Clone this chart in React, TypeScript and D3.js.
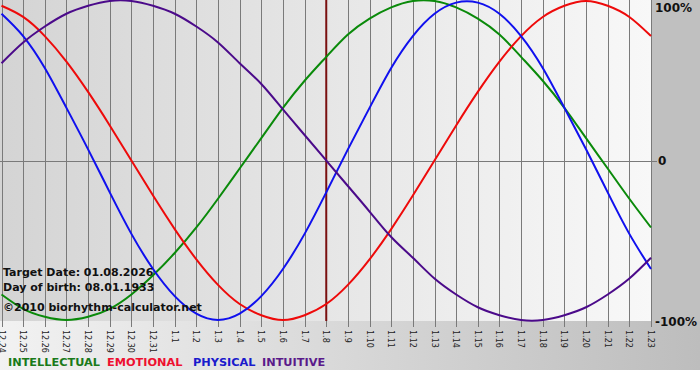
import React from "react";
import * as d3 from "d3";

const dayLabels = [
  "12.24","12.25","12.26","12.27","12.28","12.29","12.30","12.31",
  "1.1","1.2","1.3","1.4","1.5","1.6","1.7","1.8","1.9","1.10","1.11","1.12",
  "1.13","1.14","1.15","1.16","1.17","1.18","1.19","1.20","1.21","1.22","1.23",
];
const targetLabel = "1.8";

const intellectual = [
  -0.84,-0.93,-0.98,-1.0,-0.98,-0.93,-0.84,-0.72,-0.58,-0.42,-0.24,-0.05,0.14,0.33,0.5,0.65,
  0.79,0.89,0.96,1.0,1.0,0.96,0.89,0.79,0.65,0.5,0.33,0.14,-0.05,-0.24,-0.42,
];
const emotional = [
  0.97,0.9,0.78,0.62,0.43,0.22,0.0,-0.22,-0.43,-0.62,-0.78,-0.9,-0.97,-1.0,-0.97,-0.9,
  -0.78,-0.62,-0.43,-0.22,0.0,0.22,0.43,0.62,0.78,0.9,0.97,1.0,0.97,0.9,0.78,
];
const physical = [
  0.92,0.78,0.58,0.33,0.07,-0.2,-0.46,-0.68,-0.85,-0.96,-1.0,-0.96,-0.85,-0.68,-0.46,-0.2,
  0.07,0.33,0.58,0.78,0.92,0.99,0.99,0.92,0.78,0.58,0.33,0.07,-0.2,-0.46,-0.68,
];
const intuitive = [
  0.61,0.74,0.84,0.92,0.97,1.0,1.0,0.97,0.92,0.84,0.74,0.61,0.48,0.32,0.16,0.0,
  -0.16,-0.32,-0.48,-0.61,-0.74,-0.84,-0.92,-0.97,-1.0,-1.0,-0.97,-0.92,-0.84,-0.74,-0.61,
];

const seriesNames = ["INTELLECTUAL", "EMOTIONAL", "PHYSICAL", "INTUITIVE"];
const seriesData = [intellectual, emotional, physical, intuitive];
const seriesColors = ["#0a8a0a", "#ee0a0a", "#1010ee", "#4b0a8a"];
const legendColors = ["#1a7a1a", "#ee1030", "#1a1acc", "#5a1a8a"];
const legendX = [8, 107, 193, 262];

const yTicks = [1, 0, -1];
const yTickLabels = ["100%", "0", "-100%"];
const infoLines = ["Target Date: 01.08.2026", "Day of birth: 08.01.1933", "\u00a92010 biorhythm-calculator.net"];

export default function App() {
  const W = 700, H = 380;
  const plotLeft = 1.5, plotRight = 651, plotTop = 0, plotBottom = 321;
  const x = d3.scaleLinear().domain([0, dayLabels.length - 1]).range([plotLeft, plotRight]);
  const y = d3.scaleLinear().domain([-1, 1]).range([320, 1]);
  const line = d3.line<number>().x((_, i) => x(i)).y((d) => y(d)).curve(d3.curveNatural);
  const targetIdx = dayLabels.indexOf(targetLabel);

  return (
    <div style={{ position: "absolute", left: 0, top: 0 }}>
      <svg width={W} height={H} style={{ display: "block" }}>
        <defs>
          <linearGradient id="plotBg" x1="0" x2="1" y1="0" y2="0">
            <stop offset="0" stopColor="#d4d4d4" />
            <stop offset="1" stopColor="#f8f8f8" />
          </linearGradient>
          <linearGradient id="bottomBg" x1="0" x2="1" y1="0" y2="0">
            <stop offset="0" stopColor="#f2f2f2" />
            <stop offset="1" stopColor="#bdbdbd" />
          </linearGradient>
        </defs>
        <rect x={0} y={0} width={W} height={H} fill="#ffffff" />
        <rect x={0} y={plotTop} width={plotRight} height={plotBottom} fill="url(#plotBg)" />
        <rect x={plotRight} y={0} width={W - plotRight} height={plotBottom} fill="#c0c0c0" />
        <rect x={0} y={plotBottom} width={W} height={370 - plotBottom} fill="url(#bottomBg)" />

        {dayLabels.map((lab, i) => (
          <g key={lab}>
            <line x1={Math.round(x(i)) + 0.5} x2={Math.round(x(i)) + 0.5} y1={0} y2={plotBottom + 6} stroke="#7a7a7a" strokeWidth={1} />
            <text
              transform={`translate(${x(i) - 3},${plotBottom + 9}) rotate(90)`}
              fontFamily="DejaVu Sans, Verdana, sans-serif"
              fontSize={8}
              fill="#222"
            >
              {lab}
            </text>
          </g>
        ))}
        <line x1={0} x2={plotRight + 6} y1={Math.round(y(0)) + 0.5} y2={Math.round(y(0)) + 0.5} stroke="#7a7a7a" strokeWidth={1} />

        {yTicks.map((t, i) => (
          <text
            key={t}
            x={i === 1 ? 658 : 655}
            y={t === 1 ? 12 : t === 0 ? 165 : 326}
            fontFamily="DejaVu Sans, Verdana, sans-serif"
            fontWeight="bold"
            fontSize={12}
            fill="#111"
          >
            {yTickLabels[i]}
          </text>
        ))}

        <line x1={x(targetIdx)} x2={x(targetIdx)} y1={0} y2={plotBottom} stroke="#7a1010" strokeWidth={2} />

        {seriesData.map((s, i) => (
          <path key={seriesNames[i]} d={line(s) || ""} fill="none" stroke={seriesColors[i]} strokeWidth={2} />
        ))}

        {infoLines.map((t, i) => (
          <text
            key={t}
            x={3}
            y={[276, 291, 311][i]}
            fontFamily="DejaVu Sans, Verdana, sans-serif"
            fontWeight="bold"
            fontSize={11}
            fill="#111"
          >
            {t}
          </text>
        ))}

        {seriesNames.map((n, i) => (
          <text
            key={n}
            x={legendX[i]}
            y={366}
            fontFamily="DejaVu Sans, Verdana, sans-serif"
            fontWeight="bold"
            fontSize={11.3}
            fill={legendColors[i]}
          >
            {n}
          </text>
        ))}
      </svg>
    </div>
  );
}
